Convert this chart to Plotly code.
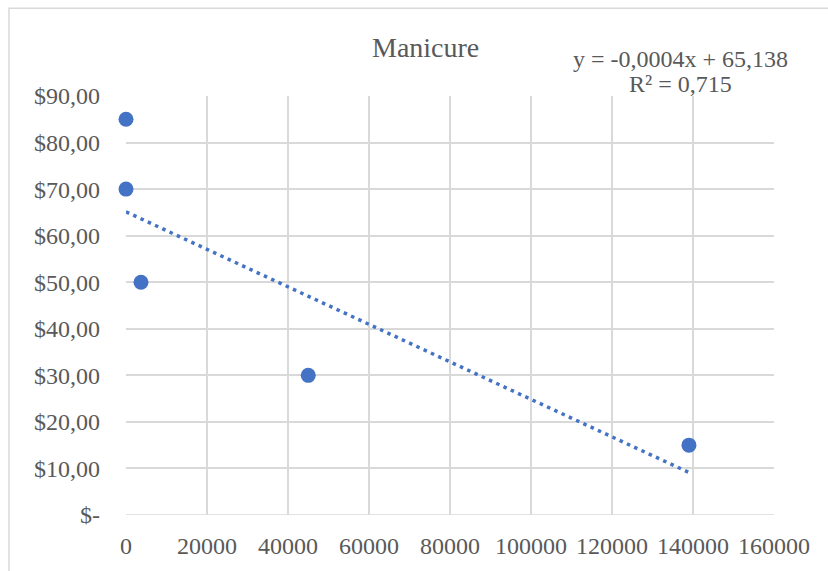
import numpy as np
import plotly.graph_objects as go

# Data
x_vals = [0, 0, 3700, 45000, 139000]
y_vals = [85, 70, 50, 30, 15]
eq_text = "y = -0,0004x + 65,138"
r2_text = "R² = 0,715"
title_text = "Manicure"

y_tickvals = [0, 10, 20, 30, 40, 50, 60, 70, 80, 90]
y_ticktext = ["$-", "$10,00", "$20,00", "$30,00", "$40,00", "$50,00",
              "$60,00", "$70,00", "$80,00", "$90,00"]
x_tickvals = [0, 20000, 40000, 60000, 80000, 100000, 120000, 140000, 160000]
x_ticktext = [str(v) for v in x_tickvals]

BLUE = "#4472C4"
GRID = "#d9d9d9"
TXT = "#595959"
FONT = "Liberation Serif"

# Linear trendline fitted to the data, drawn across the data range
coef = np.polyfit(x_vals, y_vals, 1)
tx = np.linspace(min(x_vals), max(x_vals), 50)
ty = np.polyval(coef, tx)

fig = go.Figure()
fig.add_trace(go.Scatter(x=tx, y=ty, mode="lines",
                         line=dict(color=BLUE, width=3.5, dash="3.5px,4.5px"),
                         hoverinfo="skip", showlegend=False, cliponaxis=False))
fig.add_trace(go.Scatter(x=x_vals, y=y_vals, mode="markers",
                         marker=dict(color=BLUE, size=15),
                         showlegend=False, cliponaxis=False))

L, R, T, B = 126, 54, 96, 53
W, H = 828, 571
pw, ph = W - L - R, H - T - B

def px(xp):
    return (xp - L) / pw

def py(yp):
    return (H - B - yp) / ph

fig.update_layout(
    width=W, height=H,
    margin=dict(l=L, r=R, t=T, b=B),
    paper_bgcolor="white", plot_bgcolor="white",
    font=dict(family=FONT, color=TXT, size=24),
    xaxis=dict(range=[0, 160000], tickvals=x_tickvals, ticktext=x_ticktext,
               showgrid=True, gridcolor=GRID, gridwidth=1.5,
               zeroline=False, showline=False, ticks="",
               ticklabelstandoff=14, tickfont=dict(size=24, color=TXT)),
    yaxis=dict(range=[0, 90], tickvals=y_tickvals, ticktext=y_ticktext,
               showgrid=True, gridcolor=GRID, gridwidth=1.5,
               zeroline=False, showline=False, ticks="",
               ticklabelstandoff=25, tickfont=dict(size=24, color=TXT)),
    shapes=[
        dict(type="rect", xref="paper", yref="paper",
             x0=px(9), x1=px(840), y0=py(580), y1=py(7.5),
             line=dict(color=GRID, width=1.5), fillcolor="rgba(0,0,0,0)",
             layer="below"),
        dict(type="line", xref="paper", yref="y", x0=0, x1=1, y0=0, y1=0,
             line=dict(color=GRID, width=1.5), layer="below"),
    ],
    annotations=[
        dict(text=title_text, xref="paper", yref="paper", x=px(425), y=py(47),
             showarrow=False, xanchor="center", yanchor="middle",
             font=dict(family=FONT, size=28, color=TXT)),
        dict(text=eq_text, xref="paper", yref="paper", x=px(680), y=py(59),
             showarrow=False, xanchor="center", yanchor="middle",
             font=dict(family=FONT, size=24, color=TXT)),
        dict(text=r2_text, xref="paper", yref="paper", x=px(680), y=py(84),
             showarrow=False, xanchor="center", yanchor="middle",
             font=dict(family=FONT, size=24, color=TXT)),
    ],
)

fig.write_html("out.html")
